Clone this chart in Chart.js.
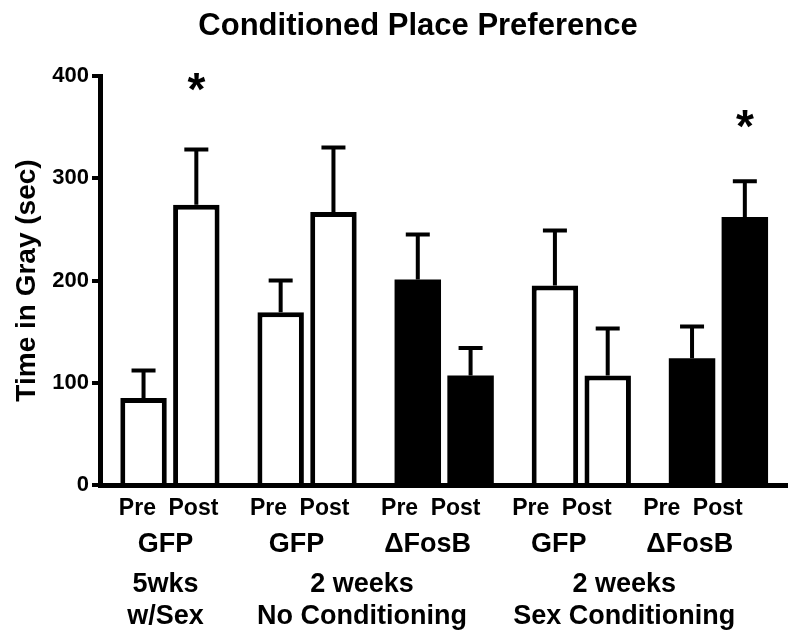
<!DOCTYPE html>
<html>
<head>
<meta charset="utf-8">
<script src="https://cdn.jsdelivr.net/npm/chart.js@4/dist/chart.umd.min.js"></script>
<style>
  html, body { margin: 0; padding: 0; background: #fff; }
  canvas { display: block; }
</style>
</head>
<body>
<canvas id="cppChart" width="795" height="640"></canvas>
<script>
// ==========================================
// DATA
// ==========================================
const chartTitle = 'Conditioned Place Preference';
const groupNames = ['GFP', 'GFP', '\u0394FosB', 'GFP', '\u0394FosB'];
const phaseNames = ['Pre', 'Post'];
const conditionLines = [['5wks', 'w/Sex'], ['2 weeks', 'No Conditioning'], ['2 weeks', 'Sex Conditioning']];
const conditionGroups = [[0, 0], [1, 2], [3, 4]];

const preValues = [85, 169, 201, 195, 124];
const postValues = [274, 267, 107, 107, 262];
const preErrors = [27, 31, 44, 54, 31];
const postErrors = [54, 63, 27, 46, 35];
// asterisk heights (y value) over the post bars, null = no mark
const postStars = [393, null, null, null, 357];

const yTicks = [0, 100, 200, 300, 400];
const xPositions = [1, 2, 3, 4, 5];

const FONT = '"Liberation Sans", Arial, Helvetica, sans-serif';
const groupFill = ['#ffffff', '#ffffff', '#000000', '#ffffff', '#000000'];
// solid bars need no outline (avoids a seam between fill and border)
const groupBorder = groupFill.map(c => c === '#000000' ? 0 : 5);

Chart.defaults.font.family = FONT;
Chart.defaults.color = '#000';

// ==========================================
// PLUGIN: title, error bars, asterisks, x labels
// ==========================================
const extrasPlugin = {
    id: 'extras',
    afterDatasetsDraw(chart) {
        const ctx = chart.ctx;
        const yScale = chart.scales.y;
        ctx.save();
        ctx.strokeStyle = '#000';
        ctx.lineWidth = 4;
        ctx.lineCap = 'butt';
        chart.data.datasets.forEach((ds, di) => {
            const meta = chart.getDatasetMeta(di);
            meta.data.forEach((bar, i) => {
                const top = yScale.getPixelForValue(ds.data[i].y + ds.errors[i]);
                ctx.beginPath();
                ctx.moveTo(bar.x, bar.y);
                ctx.lineTo(bar.x, top);
                ctx.moveTo(bar.x - 12, top);
                ctx.lineTo(bar.x + 12, top);
                ctx.stroke();
            });
        });

        // asterisks
        const postMeta = chart.getDatasetMeta(1);
        ctx.fillStyle = '#000';
        ctx.font = 'bold 46px ' + FONT;
        ctx.textAlign = 'center';
        ctx.textBaseline = 'alphabetic';
        postStars.forEach((v, i) => {
            if (v === null) return;
            const y = yScale.getPixelForValue(v);
            ctx.fillText('*', postMeta.data[i].x, y + 22);
        });
        ctx.restore();
    },
    afterDraw(chart) {
        const ctx = chart.ctx;
        const xScale = chart.scales.x;
        // the printed labels sit on a slightly tighter pitch than the bars
        const labelX = i => xScale.getPixelForValue(0.967 + i * 0.956);
        ctx.save();
        ctx.fillStyle = '#000';
        ctx.textAlign = 'center';
        ctx.textBaseline = 'alphabetic';

        ctx.font = 'bold 31px ' + FONT;
        ctx.fillText(chartTitle, 418, 35);

        groupNames.forEach((name, i) => {
            const cx = labelX(i);
            ctx.font = 'bold 23px ' + FONT;
            ctx.fillText(phaseNames[0], cx - 28, 515);
            ctx.fillText(phaseNames[1], cx + 28, 515);
            ctx.font = 'bold 27px ' + FONT;
            ctx.fillText(name, cx, 552);
        });

        ctx.font = 'bold 27px ' + FONT;
        conditionLines.forEach((lines, k) => {
            const [a, b] = conditionGroups[k];
            const cx = (labelX(a) + labelX(b)) / 2;
            ctx.fillText(lines[0], cx, 592);
            ctx.fillText(lines[1], cx, 624);
        });
        ctx.restore();
    }
};

// ==========================================
// CHART
// ==========================================
const ctx = document.getElementById('cppChart');

new Chart(ctx, {
    type: 'bar',
    data: {
        datasets: [
            {
                label: phaseNames[0],
                data: preValues.map((v, i) => ({ x: xPositions[i], y: v })),
                errors: preErrors,
                backgroundColor: groupFill,
                borderColor: '#000',
                borderWidth: groupBorder
            },
            {
                label: phaseNames[1],
                data: postValues.map((v, i) => ({ x: xPositions[i], y: v })),
                errors: postErrors,
                backgroundColor: groupFill,
                borderColor: '#000',
                borderWidth: groupBorder
            }
        ]
    },
    options: {
        responsive: false,
        animation: false,
        categoryPercentage: 0.77,
        barPercentage: 0.88,
        layout: { padding: { left: 0, right: 8, top: 76, bottom: 155 } },
        plugins: {
            legend: { display: false },
            tooltip: { enabled: false },
            title: { display: false }
        },
        scales: {
            x: {
                type: 'linear',
                min: 0.49,
                max: 5.5,
                offset: false,
                afterBuildTicks: s => { s.ticks = xPositions.map(v => ({ value: v })); },
                grid: { display: false },
                ticks: { display: false },
                border: { color: '#000', width: 5 },
                afterFit: s => { s.height = 0; }
            },
            y: {
                min: 0,
                max: 400,
                afterBuildTicks: s => { s.ticks = yTicks.map(v => ({ value: v })); },
                ticks: {
                    color: '#000',
                    padding: 3,
                    font: { size: 22, weight: 'bold', family: FONT }
                },
                grid: {
                    drawOnChartArea: false,
                    drawTicks: true,
                    tickLength: 8,
                    lineWidth: 4,
                    color: '#000'
                },
                border: { color: '#000', width: 5 },
                title: {
                    display: true,
                    text: 'Time in Gray (sec)',
                    color: '#000',
                    font: { size: 28, weight: 'bold', family: FONT },
                    padding: { top: 10, bottom: 0 }
                },
                afterFit: s => { s.width = 100; }
            }
        }
    },
    plugins: [extrasPlugin]
});
</script>
</body>
</html>
